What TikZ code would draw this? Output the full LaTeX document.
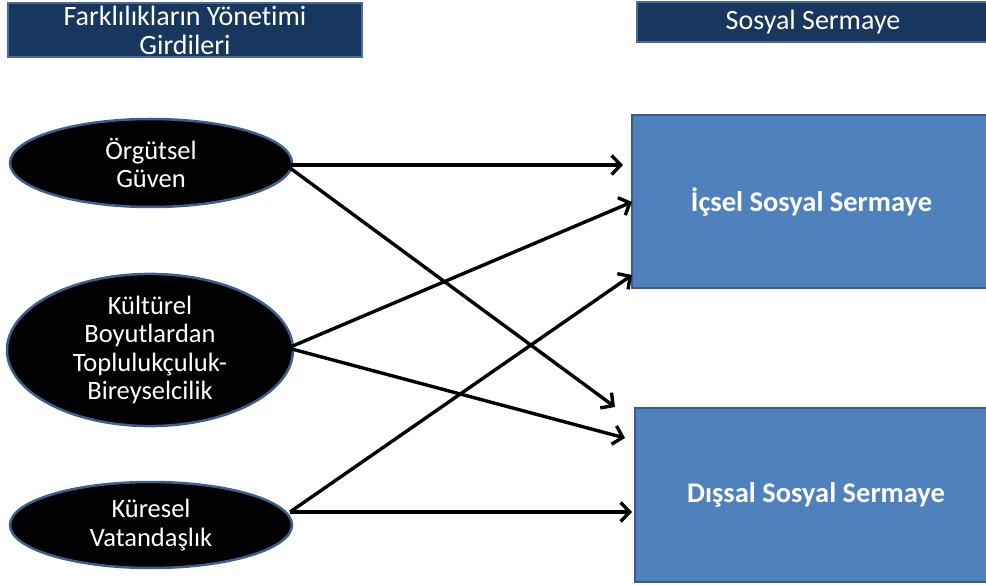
\documentclass[tikz,border=0pt]{standalone}
\usepackage{fontspec}
\setmainfont{Carlito}[Ligatures=CommonOff]
\usetikzlibrary{shapes.geometric,arrows.meta}
\definecolor{navy}{HTML}{17375E}
\definecolor{navyborder}{HTML}{4A6C9B}
\definecolor{boxblue}{HTML}{4F81BD}
\definecolor{boxborder}{HTML}{385D8A}
\definecolor{ellborder}{HTML}{3E5F8E}
\tikzset{
  header/.style={draw=navyborder, line width=2pt, fill=navy, text=white, inner sep=0pt, align=center,
    font=\fontsize{28}{29}\selectfont},
  oval/.style={ellipse, draw=ellborder, line width=2.5pt, fill=black, text=white, inner sep=0pt, align=center,
    font=\fontsize{26.5}{28.3}\selectfont},
  target/.style={draw=boxborder, line width=2pt, fill=boxblue, text=white, inner sep=0pt,
    font=\fontsize{28.5}{30}\selectfont\bfseries},
  link/.style={line width=3.4pt, -{Straight Barb[length=9pt,width=19pt,line width=3.4pt]}}
}
\begin{document}
\begin{tikzpicture}[x=1pt,y=-1pt]
\useasboundingbox (0,0) rectangle (986,585);
\clip (0,0) rectangle (986,585);
\node[header, minimum width=354pt, minimum height=54pt] (h1) at (185,30) {Farklılıkların Yönetimi\\Girdileri};
\node[header, minimum width=352pt, minimum height=40pt] (h2) at (813,22) {Sosyal Sermaye};

\node[oval, minimum width=282pt, minimum height=88pt] (e1) at (151,163) {Örgütsel\\Güven};
\node[oval, minimum width=286pt, minimum height=134pt] (e2) at (150,350) {Kültürel\\Boyutlardan\\Toplulukçuluk-\\Bireyselcilik};
\node[oval, minimum width=282pt, minimum height=86pt] (e3) at (151,525) {Küresel\\Vatandaşlık};

\node[target, minimum width=359pt, minimum height=173pt] (b1) at (811.5,201.5) {İçsel Sosyal Sermaye};
\node[target, minimum width=362pt, minimum height=174pt] (b2) at (816,495) {Dışsal Sosyal Sermaye};

\coordinate (s1) at (290,165);
\coordinate (s1b) at (290,168);
\coordinate (s2) at (288,348);
\coordinate (s3) at (290,512);
\coordinate (t1) at (623,165);
\coordinate (t2) at (615,407);
\coordinate (t3) at (632,202);
\coordinate (t4) at (625,438);
\coordinate (t5) at (632,275);
\coordinate (t6) at (632,512);

\draw[link] (s1) -- (t1);
\draw[link] (s1b) -- (t2);
\draw[link] (s2) -- (t3);
\draw[link] (s2) -- (t4);
\draw[link] (s3) -- (t5);
\draw[link] (s3) -- (t6);
\end{tikzpicture}
\end{document}
